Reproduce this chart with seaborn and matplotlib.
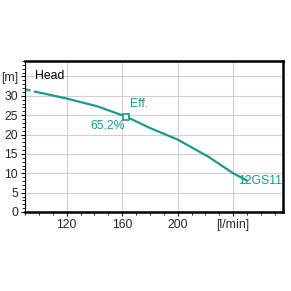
import matplotlib
matplotlib.use("Agg")
import matplotlib.pyplot as plt
import seaborn as sns
import pandas as pd
from matplotlib.ticker import MultipleLocator

flow = [90, 97, 120, 142, 163, 180, 200, 222, 240, 250]
head = [31.7, 31.1, 29.3, 27.3, 24.6, 21.7, 18.7, 14.3, 10.0, 8.1]
eff_flow = 163
eff_head = 24.6
eff_label = "65.2%"
model = "12GS11"
xticks = [120, 160, 200, 240]
xticklabels = ["120", "160", "200", "[l/min]"]
yticks = [0, 5, 10, 15, 20, 25, 30, 35]
yticklabels = ["0", "5", "10", "15", "20", "25", "30", "[m]"]

sns.set_style("white")
plt.rcParams['font.family'] = ['Liberation Sans', 'DejaVu Sans']
teal = "#1a9a8c"
fs = 8.8

fig = plt.figure(figsize=(2.91, 2.91), dpi=100)
ax = fig.add_axes([0.086, 0.2715, 0.887, 0.519])

df = pd.DataFrame({"flow": flow, "head": head})
sns.lineplot(data=df.iloc[:2], x="flow", y="head", ax=ax, color=teal, lw=1.6,
             linestyle=(0, (2.5, 2)), sort=False)
sns.lineplot(data=df.iloc[1:], x="flow", y="head", ax=ax, color=teal, lw=1.6, sort=False)
ax.plot([eff_flow], [eff_head], marker="s", ms=4.5, mfc="white", mec=teal, mew=1.2, ls="none")

ax.set_xlim(90, 276)
ax.set_ylim(0, 39)
ax.set_xticks(xticks)
ax.set_xticklabels(xticklabels)
ax.set_yticks(yticks)
ax.set_yticklabels(yticklabels)
ax.xaxis.set_minor_locator(MultipleLocator(10))
ax.yaxis.set_minor_locator(MultipleLocator(1))
ax.tick_params(axis="both", which="major", labelsize=fs, length=3, width=0.8, color="black", pad=2)
ax.tick_params(axis="both", which="minor", length=2, width=0.6, color="black")
ax.tick_params(axis="x", which="both", bottom=True)
ax.tick_params(axis="y", which="both", left=True)
ax.set_xlabel("")
ax.set_ylabel("")
ax.grid(True, which="major", color="#d0d0d0", lw=0.8)
ax.set_axisbelow(True)
for s in ["top", "right", "bottom"]:
    ax.spines[s].set_linewidth(1.8)
    ax.spines[s].set_color("black")
ax.spines["left"].set_linewidth(0.8)
ax.spines["left"].set_color("black")

ax.text(97, 35, "Head", fontsize=fs, color="black", va="center", ha="left")
ax.text(eff_flow + 3, eff_head + 3.4, "Eff.", fontsize=fs, color=teal, va="center", ha="left")
ax.text(eff_flow - 1, eff_head - 2.4, eff_label, fontsize=fs, color=teal, va="center", ha="right")
ax.text(275, 8.1, model, fontsize=fs, color=teal, va="center", ha="right")

fig.savefig("out.png", dpi=100)
